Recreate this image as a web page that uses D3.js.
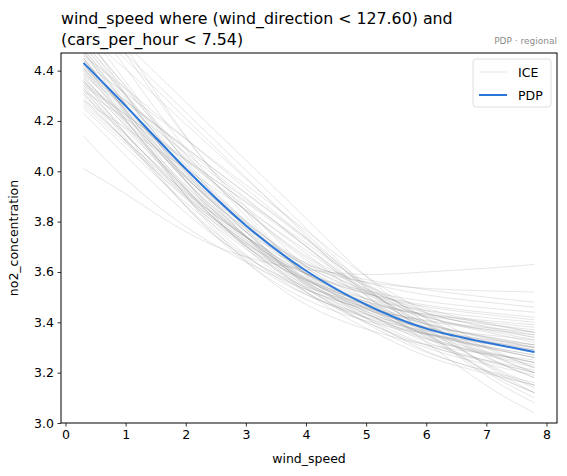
<!DOCTYPE html>
<html>
<head>
<meta charset="utf-8">
<script src="https://cdn.jsdelivr.net/npm/d3@7"></script>
<style>
  body { margin: 0; background: #fff; }
  text { font-family: "DejaVu Sans", sans-serif; fill: #000; }
</style>
</head>
<body>
<svg id="chart" width="567" height="476"></svg>
<script>
// grid of wind_speed values the curves are evaluated on
var xGrid = [0.3, 1, 2, 3, 4, 5, 6, 7, 7.8];

// partial dependence (average) curve
var pdpValues = [4.43, 4.26, 4.01, 3.785, 3.605, 3.47, 3.375, 3.32, 3.282];

// individual conditional expectation curves, one row per sample
var iceValues = [
  [4.55, 4.405, 4.188, 3.97, 3.753, 3.535, 3.361, 3.202, 3.10],
  [4.52, 4.304, 3.997, 3.74, 3.521, 3.377, 3.266, 3.197, 3.15],
  [4.50, 4.295, 4.003, 3.76, 3.552, 3.416, 3.311, 3.244, 3.20],
  [4.48, 4.234, 3.902, 3.644, 3.471, 3.373, 3.312, 3.275, 3.25],
  [4.47, 4.285, 4.023, 3.804, 3.617, 3.494, 3.399, 3.34, 3.30],
  [4.45, 4.23, 3.933, 3.702, 3.548, 3.46, 3.405, 3.372, 3.35],
  [4.44, 4.257, 3.997, 3.78, 3.594, 3.473, 3.379, 3.319, 3.28],
  [4.43, 4.309, 4.128, 3.946, 3.765, 3.583, 3.438, 3.305, 3.22],
  [4.42, 4.248, 4.004, 3.80, 3.625, 3.511, 3.423, 3.367, 3.33],
  [4.41, 4.204, 3.926, 3.71, 3.565, 3.483, 3.432, 3.401, 3.38],
  [4.40, 4.278, 4.095, 3.912, 3.729, 3.546, 3.40, 3.265, 3.18],
  [4.39, 4.218, 3.974, 3.77, 3.595, 3.481, 3.393, 3.337, 3.30],
  [4.38, 4.188, 3.929, 3.727, 3.593, 3.516, 3.468, 3.439, 3.42],
  [4.37, 4.195, 3.946, 3.738, 3.561, 3.444, 3.354, 3.298, 3.26],
  [4.36, 4.20, 3.974, 3.785, 3.624, 3.518, 3.436, 3.384, 3.35],
  [4.35, 4.227, 4.043, 3.858, 3.674, 3.489, 3.341, 3.206, 3.12],
  [4.34, 4.152, 3.898, 3.701, 3.569, 3.494, 3.447, 3.419, 3.40],
  [4.33, 4.166, 3.933, 3.738, 3.572, 3.463, 3.378, 3.325, 3.29],
  [4.32, 4.149, 3.907, 3.705, 3.533, 3.419, 3.332, 3.277, 3.24],
  [4.31, 4.12, 3.864, 3.664, 3.531, 3.455, 3.408, 3.379, 3.36],
  [4.30, 4.144, 3.922, 3.737, 3.578, 3.474, 3.394, 3.344, 3.31],
  [4.29, 4.12, 3.89, 3.712, 3.593, 3.525, 3.483, 3.457, 3.44],
  [4.28, 4.172, 4.01, 3.848, 3.686, 3.524, 3.394, 3.276, 3.20],
  [4.27, 4.123, 3.915, 3.741, 3.592, 3.494, 3.419, 3.372, 3.34],
  [4.25, 4.095, 3.876, 3.692, 3.536, 3.433, 3.353, 3.303, 3.27],
  [4.23, 4.062, 3.835, 3.659, 3.541, 3.474, 3.432, 3.407, 3.39],
  [4.60, 4.444, 4.21, 3.976, 3.742, 3.508, 3.321, 3.149, 3.04],
  [4.58, 4.356, 4.038, 3.772, 3.545, 3.396, 3.281, 3.208, 3.16],
  [4.53, 4.339, 4.068, 3.842, 3.648, 3.521, 3.423, 3.361, 3.32],
  [4.46, 4.328, 4.13, 3.932, 3.734, 3.536, 3.378, 3.232, 3.14],
  [4.49, 4.266, 3.964, 3.728, 3.572, 3.482, 3.426, 3.392, 3.37],
  [4.36, 4.178, 3.921, 3.706, 3.522, 3.401, 3.308, 3.249, 3.21],
  [4.14, 3.97, 3.78, 3.64, 3.53, 3.45, 3.38, 3.33, 3.30],
  [4.01, 3.91, 3.76, 3.66, 3.61, 3.59, 3.60, 3.615, 3.63],
  [4.40, 4.20, 3.93, 3.74, 3.62, 3.56, 3.535, 3.525, 3.52],
  [4.45, 4.24, 3.96, 3.76, 3.63, 3.57, 3.53, 3.50, 3.48],
  [4.62, 4.466, 4.235, 4.004, 3.773, 3.542, 3.357, 3.188, 3.08],
  [4.44, 4.244, 3.979, 3.774, 3.636, 3.558, 3.509, 3.48, 3.46],
  [4.34, 4.224, 4.05, 3.876, 3.702, 3.528, 3.389, 3.261, 3.18],
  [4.50, 4.304, 4.026, 3.794, 3.596, 3.466, 3.365, 3.302, 3.26],
  [4.75, 4.497, 4.139, 3.84, 3.584, 3.416, 3.286, 3.204, 3.15],
  [4.70, 4.466, 4.135, 3.858, 3.621, 3.466, 3.346, 3.27, 3.22],
  [4.66, 4.506, 4.275, 4.044, 3.813, 3.582, 3.397, 3.228, 3.12],
  [4.56, 4.306, 3.963, 3.696, 3.519, 3.417, 3.354, 3.315, 3.29],
  [4.41, 4.225, 3.963, 3.744, 3.557, 3.434, 3.339, 3.28, 3.24],
  [4.46, 4.266, 3.99, 3.76, 3.563, 3.434, 3.335, 3.272, 3.23],
  [4.43, 4.206, 3.904, 3.668, 3.512, 3.422, 3.366, 3.332, 3.31],
  [4.39, 4.271, 4.093, 3.914, 3.736, 3.557, 3.414, 3.283, 3.20],
  [4.37, 4.21, 3.984, 3.795, 3.634, 3.528, 3.446, 3.394, 3.36],
  [4.35, 4.181, 3.941, 3.741, 3.57, 3.458, 3.371, 3.316, 3.28],
  [4.33, 4.13, 3.86, 3.65, 3.51, 3.43, 3.38, 3.35, 3.33],
  [4.47, 4.268, 3.981, 3.742, 3.537, 3.402, 3.299, 3.234, 3.19],
  [4.51, 4.325, 4.063, 3.844, 3.657, 3.534, 3.439, 3.38, 3.34],
  [4.42, 4.237, 3.977, 3.76, 3.574, 3.453, 3.359, 3.299, 3.26],
  [4.38, 4.257, 4.073, 3.888, 3.704, 3.519, 3.371, 3.236, 3.15],
  [4.31, 4.146, 3.913, 3.718, 3.552, 3.443, 3.358, 3.305, 3.27],
  [4.45, 4.242, 3.961, 3.743, 3.597, 3.514, 3.462, 3.431, 3.41],
  [4.54, 4.335, 4.043, 3.80, 3.592, 3.456, 3.351, 3.284, 3.24],
  [4.28, 4.124, 3.902, 3.717, 3.558, 3.454, 3.374, 3.324, 3.29],
  [4.41, 4.281, 4.088, 3.894, 3.701, 3.507, 3.352, 3.21, 3.12],
  [4.48, 4.303, 4.052, 3.843, 3.664, 3.546, 3.455, 3.398, 3.36],
  [4.36, 4.148, 3.862, 3.639, 3.491, 3.406, 3.353, 3.321, 3.30],
  [4.64, 4.412, 4.09, 3.821, 3.59, 3.439, 3.322, 3.249, 3.20],
  [4.32, 4.21, 4.045, 3.88, 3.715, 3.55, 3.418, 3.297, 3.22],
  [4.26, 4.11, 3.897, 3.719, 3.567, 3.468, 3.391, 3.342, 3.31]
];

var xTicks = [0, 1, 2, 3, 4, 5, 6, 7, 8];
var yTicks = [3.0, 3.2, 3.4, 3.6, 3.8, 4.0, 4.2, 4.4];

var svg = d3.select("#chart");
var margin = {top: 53, right: 10, bottom: 53, left: 61};
var width = 567 - margin.left - margin.right,
    height = 476 - margin.top - margin.bottom;

var x = d3.scaleLinear().domain([-0.075, 8.175]).range([0, width]);
var y = d3.scaleLinear().domain([3.0, 4.47]).range([height, 0]);

svg.append("defs").append("clipPath").attr("id", "plot-clip")
    .append("rect").attr("width", width).attr("height", height);

var g = svg.append("g").attr("transform", "translate(" + margin.left + "," + margin.top + ")");

var line = d3.line()
    .x(function(d, i) { return x(xGrid[i]); })
    .y(function(d) { return y(d); })
    .curve(d3.curveNatural);

var plot = g.append("g").attr("clip-path", "url(#plot-clip)");

plot.selectAll(".ice").data(iceValues).enter().append("path")
    .attr("class", "ice")
    .attr("d", line)
    .attr("fill", "none")
    .attr("stroke", "#7f7f7f")
    .attr("stroke-opacity", 0.22)
    .attr("stroke-width", 0.9);

plot.append("path")
    .datum(pdpValues)
    .attr("d", line)
    .attr("fill", "none")
    .attr("stroke", "#2a77d9")
    .attr("stroke-width", 2);

// axes
var xAxis = g.append("g").attr("transform", "translate(0," + height + ")")
    .call(d3.axisBottom(x).tickValues(xTicks).tickFormat(d3.format("d")).tickSize(3.5).tickPadding(3.5));
var yAxis = g.append("g")
    .call(d3.axisLeft(y).tickValues(yTicks).tickFormat(d3.format(".1f")).tickSize(3.5).tickPadding(3.5));

[xAxis, yAxis].forEach(function(a) {
    a.select(".domain").remove();
    a.selectAll("line").attr("stroke", "#000").attr("stroke-width", 0.8);
    a.selectAll("text").attr("font-size", 12.5).attr("font-family", "DejaVu Sans").attr("fill", "#000");
});

g.append("rect")
    .attr("width", width).attr("height", height)
    .attr("fill", "none").attr("stroke", "#000").attr("stroke-width", 1);

// labels
g.append("text")
    .attr("x", width / 2).attr("y", height + 40)
    .attr("text-anchor", "middle").attr("font-size", 12.5)
    .text("wind_speed");

g.append("text")
    .attr("transform", "translate(-43," + (height / 2) + ") rotate(-90)")
    .attr("text-anchor", "middle").attr("font-size", 12.5)
    .text("no2_concentration");

svg.append("text")
    .attr("x", margin.left).attr("y", 24)
    .attr("font-size", 15.8)
    .text("wind_speed where (wind_direction < 127.60) and");
svg.append("text")
    .attr("x", margin.left).attr("y", 45)
    .attr("font-size", 15.8)
    .text("(cars_per_hour < 7.54)");

svg.append("text")
    .attr("x", margin.left + width).attr("y", 44)
    .attr("text-anchor", "end").attr("font-size", 9)
    .style("fill", "#8c8c8c")
    .text("PDP \u00b7 regional");

// legend
var legend = g.append("g").attr("transform", "translate(" + (width - 84) + ",6)");
legend.append("rect")
    .attr("width", 78).attr("height", 48).attr("rx", 3)
    .attr("fill", "#fff").attr("fill-opacity", 0.8)
    .attr("stroke", "#d5d5d5").attr("stroke-width", 0.8);

var legendItems = [
    {name: "ICE", color: "#7f7f7f", opacity: 0.22, w: 0.9},
    {name: "PDP", color: "#2a77d9", opacity: 1, w: 2}
];
legendItems.forEach(function(d, i) {
    var yy = 13 + i * 23;
    legend.append("line")
        .attr("x1", 6).attr("x2", 34).attr("y1", yy).attr("y2", yy)
        .attr("stroke", d.color).attr("stroke-opacity", d.opacity).attr("stroke-width", d.w);
    legend.append("text")
        .attr("x", 45).attr("y", yy + 4.5)
        .attr("font-size", 12.5)
        .text(d.name);
});
</script>
</body>
</html>
